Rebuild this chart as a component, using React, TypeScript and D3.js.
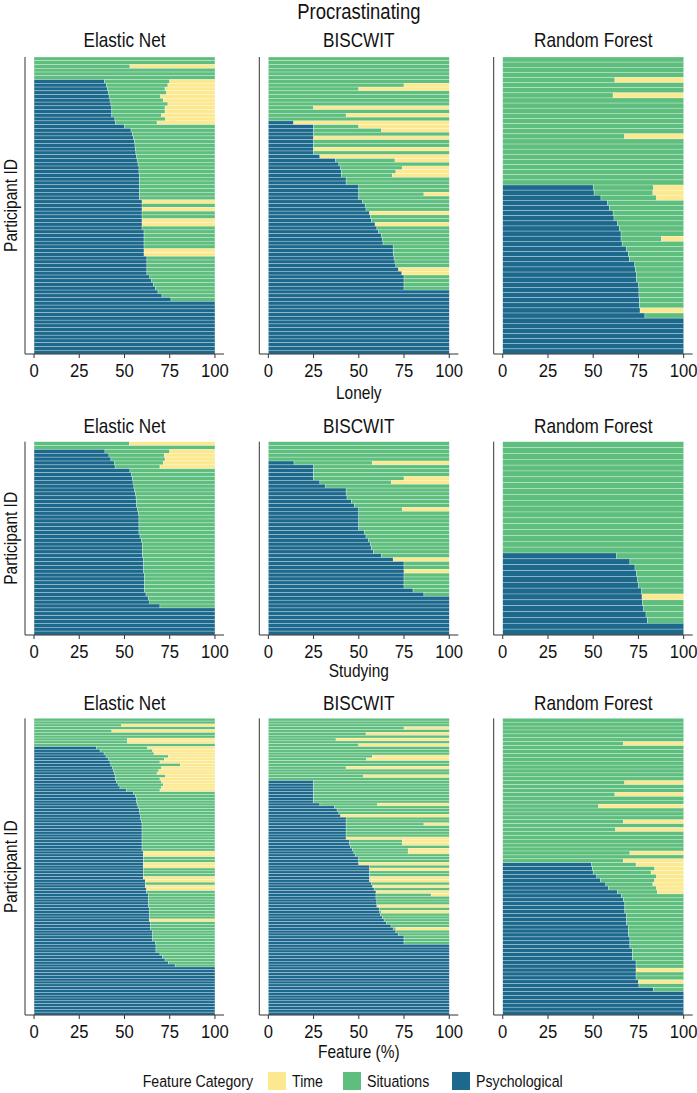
import React from "react";
import * as d3 from "d3";

// ---------- DATA ----------
const outcomes = ["Procrastinating", "Lonely", "Studying"];
const models = ["Elastic Net", "BISCWIT", "Random Forest"];
const categories = ["Time", "Situations", "Psychological"];
const xTicks = [0, 25, 50, 75, 100];

// Procrastinating
const procEnPsych = [0,0,0,0,0,0,
  39,40,40.5,41,41.5,42,42.5,43,43,43,44.7,45,
  50,53.6,54.3,55,55.4,55.8,
  56,56.3,56.7,57,57.5,58,58,
  58.2,58.2,58.2,58.2,58.2,58.2,58.2,
  59.7,59.7,59.7,59.7,59.7,59.7,59.7,59.7,
  60.8,60.8,60.8,60.8,60.8,60.8,60.8,
  62.4,62.4,62.4,62.4,62.4,
  64,65,66,67,68.5,70.7,75.7,
  100,100,100,100,100,100,100,100,100,100,100,100,100,100];
const procEnTime = [0,0,47,0,0,0,
  25,26,27.6,26.7,30,28.5,26,27.6,27.6,29.5,27.3,32,
  0,0,0,0,0,0,0,0,0,0,0,0,0,0,0,0,0,0,0,0,
  40.3,0,40.3,0,0,40.3,40.3,0,
  0,0,0,0,0,39.2,39.2,
  0,0,0,0,0,0,0,0,0,0,0,0,0,0,0,0,0,0,0,0,0,0,0,0,0,0];
const procBiPsych = [0,0,0,0,0,0,0,0,0,0,0,0,0,0,0,0,0,
  14,
  25,25,25,25,25,25,25,25,
  28.5,37,39,40,40.5,40.5,
  43,43,
  50,50,50,50,
  52,53.5,54,56,56.5,57,59,60,61,62.5,63,63.4,
  69,69,69.2,69.5,
  70,70.5,72,73.8,
  75,75,75,75,
  100,100,100,100,100,100,100,100,100,100,100,100,100,100,100,100,100];
const procBiTime = [0,0,0,0,0,0,0,25,50,0,0,0,0,75,0,57,0,
  86,
  50,37.4,0,75,0,0,75,0,
  71.5,30,0,26,29.5,31.5,
  0,0,
  0,0,14,0,
  0,0,0,44,0,0,41,0,0,0,0,0,
  0,0,0,0,
  0,0,28,26,
  0,0,0,0,
  0,0,0,0,0,0,0,0,0,0,0,0,0,0,0,0,0];
const procRfPsych = [0,0,0,0,0,0,0,0,0,0,0,0,0,0,0,0,0,0,0,0,0,0,0,0,0,
  50,50.5,54.3,58,59,61,61.5,63.5,64.6,65.4,65.4,66,68.5,69.4,70,73,73.3,73.8,74,75.1,75.3,75.3,75.5,75.5,75.9,78.6,
  100,100,100,100,100,100,100];
const procRfTime = [0,0,0,0,38,0,0,39,0,0,0,0,0,0,0,32.6,0,0,0,0,0,0,0,0,0,
  16.6,17,15,0,0,0,0,0,0,0,12.2,0,0,0,0,0,0,0,0,0,0,0,0,0,24.1,0,
  0,0,0,0,0,0,0];

// Lonely
const lonelyEnPsych = [0,0,39.2,41.4,42.5,44.4,44.8,
  53,54,54.3,54.7,55.2,55.6,56,56.4,56.7,56.7,57.3,57.6,
  58,58,58,58,58,
  58.6,59.3,
  59.9,59.9,59.9,59.9,
  60.6,60.6,60.6,60.6,
  61,61,61,61,61,
  61.9,63.2,64,69.6,
  100,100,100,100,100,100,100];
const lonelyEnTime = [47.3,0,25,28,27.6,28.5,30.4,
  0,0,0,0,0,0,0,0,0,0,0,0,0,0,0,0,0,0,0,0,0,0,0,0,0,0,0,0,0,0,0,0,0,0,0,0,0,0,0,0,0,0];
const lonelyBiPsych = [0,0,0,0,0,14.2,25,25,25,25,28.5,31.7,43,43,43.5,46,47.5,
  50,50,50,50,50,50,53,54,55.5,56.5,57,58,62.6,69,
  75,75,75,75,75,75,75,80,86,
  100,100,100,100,100,100,100,100,100,100];
const lonelyBiTime = [0,0,0,0,0,42.5,0,0,0,25,32,0,0,0,0,0,0,
  26,0,0,0,0,0,0,0,0,0,0,0,0,31,
  0,0,25,0,0,0,0,0,0,
  0,0,0,0,0,0,0,0,0,0];
const lonelyRfPsych = [0,0,0,0,0,0,0,0,0,0,0,0,0,0,0,0,0,0,0,
  63,70.3,73.1,74,74.6,75.1,76.8,77,77.3,77.9,79.2,80,
  100,100];
const lonelyRfTime = [0,0,0,0,0,0,0,0,0,0,0,0,0,0,0,0,0,0,0,
  0,0,0,0,0,0,0,23,0,0,0,0,
  0,0];

// Studying
const studyEnPsych = [0,0,0,0,0,0,0,0,0,0,
  34.6,36.5,38.7,39.8,41,42,42.5,43.5,44,44.4,44.8,45,45.5,46.5,47.5,51,
  55,56,56.7,56.7,57,57.5,58.2,58.5,59,59,59.5,
  59.7,59.7,59.7,59.7,59.7,59.7,59.7,59.7,59.7,59.7,
  60.4,60.4,60.4,60.4,60.4,60.4,60.4,60.4,60.4,60.4,
  61.5,61.5,61.5,
  62.2,62.2,
  63.2,63.2,63.2,63.2,63.2,
  63.7,63.7,63.7,63.7,63.7,
  64.5,64.5,64.5,
  65.6,65.6,65.6,65.6,
  67,67.4,67.4,67.4,69.6,71,72.4,74.2,78,
  100,100,100,100,100,100,100,100,100,100,100,100,100,100,100,100,100];
const studyEnTime = [0,0,51.6,0,57,0,0,48.3,48.3,0,
  37.2,34.4,33.7,25.8,28,30.4,19.2,29.5,31,32,27.3,30.4,29.5,28.5,29.5,30.4,
  0,0,0,0,0,0,0,0,0,0,0,0,0,0,0,0,0,0,0,0,0,
  39.6,39.6,0,0,39.6,39.6,0,0,0,
  39.6,38.5,0,38.5,37.8,
  0,0,0,0,0,0,0,0,0,0,
  36.3,
  0,0,0,0,0,0,0,0,0,0,0,0,0,0,0,0,0,0,0,0,0,0,0,0,0,0,0,0,0,0,0,0,0];
const studyBiPsych = [0,0,0,0,0,0,0,0,0,0,0,0,0,0,0,0,0,0,0,0,0,0,
  25,25,25,25,25,25,25,25,
  28.5,36.5,38,39,40,
  43,43,43,43,43,43,43,43,
  45,45,45.5,46.4,47.3,48,
  50,50,50,
  56,56,56,56,56,56,
  57,57.6,58.5,
  59.5,59.5,59.5,
  60,60,60,
  61.3,61.6,62,63,64,65.4,67.8,69,70.5,72,
  75,75,75,
  100,100,100,100,100,100,100,100,100,100,100,100,100,100,100,100,100,100,100,100,100,100,100,100,100];
const studyBiTime = [0,0,0,25,0,46,0,62.6,0,50,0,0,0,42.5,45.7,0,0,57,0,0,47.5,0,
  0,0,0,0,0,0,0,0,
  39.6,0,0,0,60,
  0,0,14,0,0,0,0,57,
  26,26,0,22.7,22.7,0,
  0,0,50,
  0,44,0,0,44,44,
  0,42,0,
  40.5,10,0,
  0,0,40,
  0,37.4,0,0,0,0,0,29.5,0,0,
  0,0,0,
  0,0,0,0,0,0,0,0,0,0,0,0,0,0,0,0,0,0,0,0,0,0,0,0,0];
const studyRfPsych = [0,0,0,0,0,0,0,0,0,0,0,0,0,0,0,0,0,0,0,0,0,0,0,0,0,0,0,0,0,0,0,0,0,0,0,0,0,
  49.2,49.5,50,52,54,57,58.4,63.5,65.7,66.7,
  67.5,67.5,67.5,
  68.5,68.5,68.5,
  69.4,69.4,69.4,
  70.3,70.3,70.3,
  71.6,71.6,71.6,
  73.7,73.7,73.7,73.7,73.7,
  75,75.3,83.2,
  100,100,100,100,100,100];
const studyRfTime = [0,0,0,0,0,0,33.3,0,0,0,0,0,0,0,0,0,32.6,0,0,38,0,0,47,0,0,0,33.3,0,37.6,0,0,0,0,0,29.7,0,33.3,
  26.3,16,18,15,16,17,15,14.5,0,0,
  0,0,0,
  0,0,0,
  0,0,0,
  0,0,0,
  0,0,0,
  0,0,26.3,0,0,
  25,0,0,
  0,0,0,0,0,0];

const panelPsych = [
  [procEnPsych, procBiPsych, procRfPsych],
  [lonelyEnPsych, lonelyBiPsych, lonelyRfPsych],
  [studyEnPsych, studyBiPsych, studyRfPsych],
];
const panelTime = [
  [procEnTime, procBiTime, procRfTime],
  [lonelyEnTime, lonelyBiTime, lonelyRfTime],
  [studyEnTime, studyBiTime, studyRfTime],
];

// ---------- STYLE / LAYOUT ----------
const W = 697;
const H = 1093;
const FONT = "'Liberation Sans', Arial, sans-serif";
const SX = 0.86;
const TEXT_COLOR = "#111";
const COLORS: Record<string, string> = {
  Time: "#FCE98F",
  Situations: "#5EBE7D",
  Psychological: "#1C698D",
};
const COL_X = [25, 259.3, 493.7];
const PANEL_W = 199;
const ROW_Y = [[57, 354], [441.7, 635], [718.3, 1015]];
const OUTCOME_BASE = [19, 398.5, 677];
const MODEL_BASE = [47, 432.5, 709.5];

function NText({
  x, y, size, anchor = "start", sx = SX, rotate = 0, children,
}: {
  x: number; y: number; size: number; anchor?: string; sx?: number; rotate?: number; children: React.ReactNode;
}) {
  return (
    <text
      transform={`translate(${x},${y}) rotate(${rotate}) scale(${sx},1)`}
      textAnchor={anchor}
      fontSize={size}
      fill={TEXT_COLOR}
    >
      {children}
    </text>
  );
}

function Panel({ row, col }: { row: number; col: number }) {
  const psych = panelPsych[row][col];
  const time = panelTime[row][col];
  const [top, bottom] = ROW_Y[row];
  const x0 = COL_X[col];
  const x = d3.scaleLinear().domain([-5, 105]).range([x0, x0 + PANEL_W]);
  const y = d3.scaleBand<number>().domain(d3.range(psych.length)).range([top, bottom]).padding(0);
  const bh = y.bandwidth();
  const stack = psych.map((p, i) => {
    const t = time[i];
    const s = Math.max(0, 100 - p - t);
    return [
      { k: "Psychological", a: 0, b: p },
      { k: "Situations", a: p, b: p + s },
      { k: "Time", a: p + s, b: 100 },
    ].filter((d) => d.b - d.a > 0.05);
  });
  return (
    <g>
      {stack.map((segs, i) =>
        segs.map((d) => (
          <rect
            key={i + d.k}
            x={x(d.a)}
            y={y(i)}
            width={x(d.b) - x(d.a)}
            height={bh}
            fill={COLORS[d.k]}
            stroke="#ffffff"
            strokeOpacity={0.55}
            strokeWidth={0.5}
          />
        ))
      )}
      <line x1={x0} x2={x0} y1={top} y2={bottom} stroke="#333" strokeWidth={1} />
      <line x1={x0} x2={x0 + PANEL_W} y1={bottom} y2={bottom} stroke="#333" strokeWidth={1} />
      {xTicks.map((t) => (
        <g key={t}>
          <line x1={x(t)} x2={x(t)} y1={bottom} y2={bottom + 4} stroke="#333" strokeWidth={1} />
          <NText x={x(t)} y={bottom + 23} size={18.5} anchor="middle" sx={0.9}>
            {t}
          </NText>
        </g>
      ))}
      <NText x={x(50)} y={MODEL_BASE[row]} size={20} anchor="middle">
        {models[col]}
      </NText>
    </g>
  );
}

export default function App() {
  const midX = COL_X[1] + PANEL_W / 2;
  const legendItems = [
    { k: categories[0], x: 268 },
    { k: categories[1], x: 343 },
    { k: categories[2], x: 452 },
  ];
  return (
    <div style={{ position: "absolute", left: 0, top: 0, background: "#fff" }}>
      <svg width={W} height={H} fontFamily={FONT} style={{ display: "block" }}>
        <rect width={W} height={H} fill="#fff" />
        {outcomes.map((o, r) => (
          <g key={o}>
            <NText x={midX} y={OUTCOME_BASE[r]} size={r === 0 ? 21.5 : 18} anchor="middle">
              {o}
            </NText>
            <NText x={16.5} y={(ROW_Y[r][0] + ROW_Y[r][1]) / 2} size={18} anchor="middle" rotate={-90}>
              Participant ID
            </NText>
            {models.map((m, c) => (
              <Panel key={m} row={r} col={c} />
            ))}
          </g>
        ))}
        <NText x={midX} y={1057.5} size={18} anchor="middle">
          Feature (%)
        </NText>
        <NText x={253} y={1087} size={16.5} anchor="end">
          Feature Category
        </NText>
        {legendItems.map((d) => (
          <g key={d.k}>
            <rect x={d.x} y={1072} width={18} height={18} fill={COLORS[d.k]} />
            <NText x={d.x + 24} y={1087} size={16.5}>
              {d.k}
            </NText>
          </g>
        ))}
      </svg>
    </div>
  );
}
